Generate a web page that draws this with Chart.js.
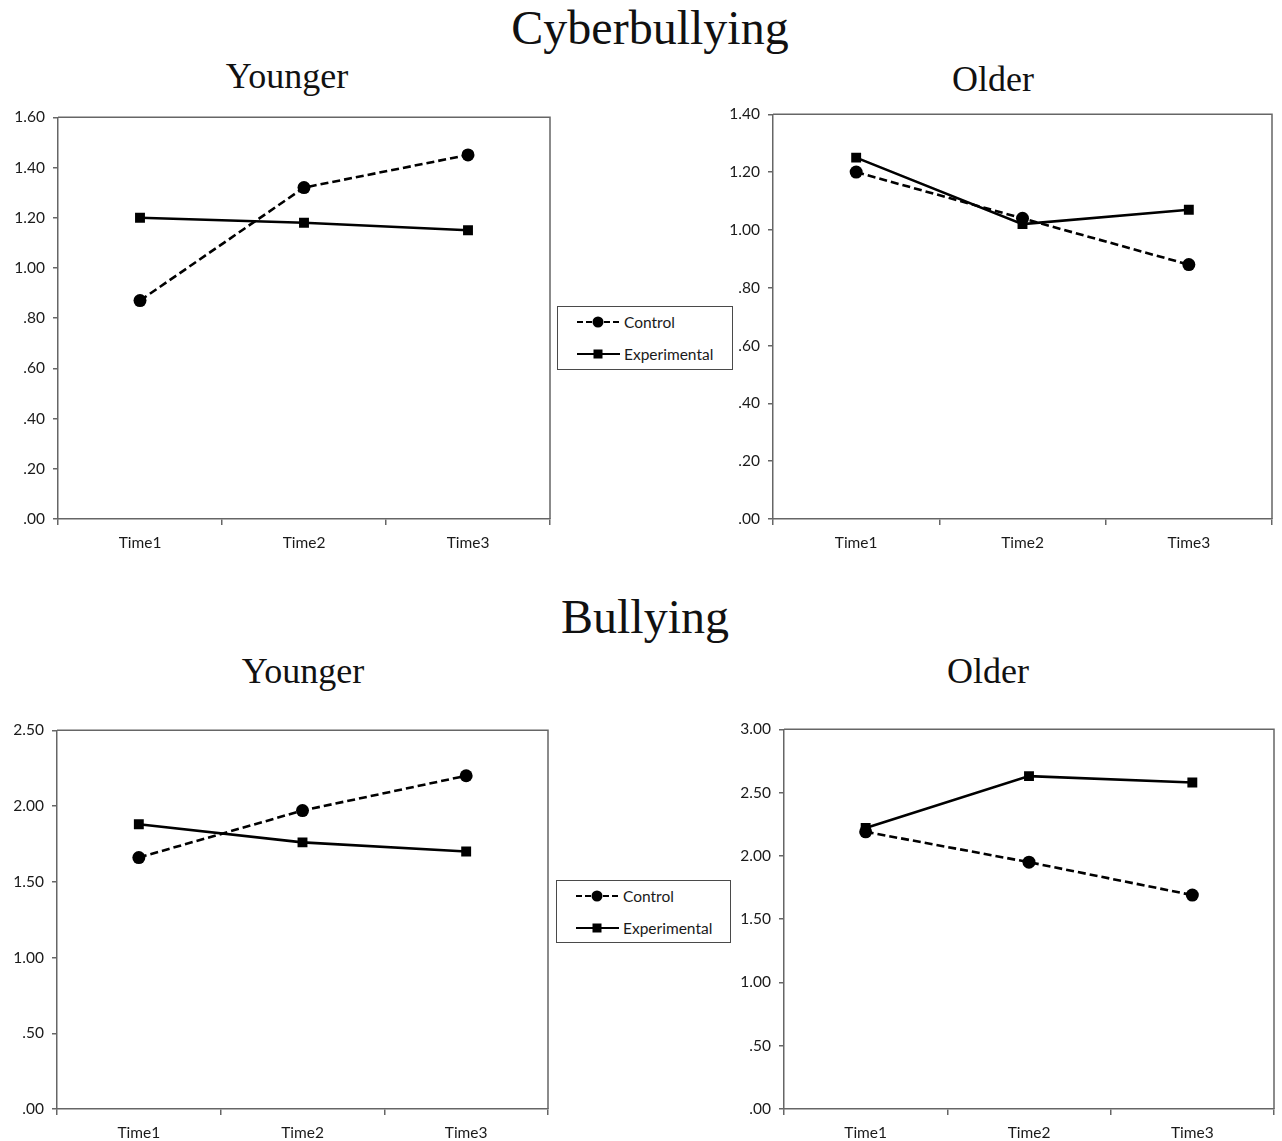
<!DOCTYPE html>
<html>
<head>
<meta charset="utf-8">
<script src="https://cdn.jsdelivr.net/npm/chart.js@4.4.1/dist/chart.umd.min.js"></script>
<style>
  html, body { margin: 0; padding: 0; background: #fff; }
  body { width: 1282px; height: 1141px; position: relative; overflow: hidden; }
  .title { position: absolute; font-family: "Liberation Serif", "Times New Roman", serif; color: #111; white-space: nowrap; transform: translateX(-50%); line-height: 1; }
  .big { font-size: 48px; }
  .sub { font-size: 36px; }
  .panel { position: absolute; }
  .legend { position: absolute; border: 1px solid #4a4a4a; background: #fff; box-sizing: border-box; font-family: Lato, "Open Sans", sans-serif; font-size: 15.5px; color: #1a1a1a; }
  .legend .row { position: absolute; left: 18px; height: 16px; display: flex; align-items: center; }
  .legend svg { margin-right: 3px; }
</style>
</head>
<body>
<div class="title big" style="left:650px; top:4px;">Cyberbullying</div>
<div class="title sub" style="left:287px; top:58px;">Younger</div>
<div class="title sub" style="left:993px; top:61px;">Older</div>
<div class="title big" style="left:645px; top:593px;">Bullying</div>
<div class="title sub" style="left:303px; top:653px;">Younger</div>
<div class="title sub" style="left:988px; top:653px;">Older</div>

<canvas id="cyberYoung" class="panel"></canvas>
<canvas id="cyberOld" class="panel"></canvas>
<canvas id="bullyYoung" class="panel"></canvas>
<canvas id="bullyOld" class="panel"></canvas>

<div class="legend" id="legendTop" style="left:557px; top:306px; width:176px; height:64px;"></div>
<div class="legend" id="legendBottom" style="left:556px; top:880px; width:175px; height:63px;"></div>

<script>
// Measurement occasions
const times = ['Time1', 'Time2', 'Time3'];

// Cyberbullying means
const cyberYoungControl = [0.87, 1.32, 1.45];
const cyberYoungExperimental = [1.20, 1.18, 1.15];
const cyberOldControl = [1.20, 1.04, 0.88];
const cyberOldExperimental = [1.25, 1.02, 1.07];

// Bullying means
const bullyYoungControl = [1.66, 1.97, 2.20];
const bullyYoungExperimental = [1.88, 1.76, 1.70];
const bullyOldControl = [2.19, 1.95, 1.69];
const bullyOldExperimental = [2.22, 2.63, 2.58];

// Axis ranges
const cyberYoungAxis = { max: 1.6, step: 0.2 };
const cyberOldAxis = { max: 1.4, step: 0.2 };
const bullyYoungAxis = { max: 2.5, step: 0.5 };
const bullyOldAxis = { max: 3.0, step: 0.5 };

const seriesNames = ['Control', 'Experimental'];

const AXIS_COLOR = '#666666';
const TICK_FONT = { family: 'Lato, "Open Sans", sans-serif', size: 15.5 };
const Y_AXIS_W = 58, X_AXIS_H = 32, PAD_TOP = 17;

// Closes the plot frame on the top and right sides
const frame = {
  id: 'frame',
  afterDraw(chart) {
    const a = chart.chartArea, ctx = chart.ctx;
    ctx.save();
    ctx.strokeStyle = AXIS_COLOR;
    ctx.lineWidth = 1.5;
    ctx.beginPath();
    ctx.moveTo(a.left, a.top);
    ctx.lineTo(a.right, a.top);
    ctx.lineTo(a.right, a.bottom);
    ctx.stroke();
    ctx.restore();
  }
};

function fmt(v) {
  return Number(v).toFixed(2).replace(/^0/, '');
}

function makePanel(id, area, padRight, axis, control, experimental) {
  const el = document.getElementById(id);
  const w = area.right - area.left + Y_AXIS_W + padRight;
  const h = area.bottom - area.top + PAD_TOP + X_AXIS_H;
  el.style.left = (area.left - Y_AXIS_W) + 'px';
  el.style.top = (area.top - PAD_TOP) + 'px';
  el.style.width = w + 'px';
  el.style.height = h + 'px';
  el.width = w; el.height = h;

  new Chart(el, {
    type: 'line',
    data: {
      labels: times,
      datasets: [
        {
          label: seriesNames[0], data: control,
          borderColor: '#000', backgroundColor: '#000', borderWidth: 2.6,
          borderDash: [8, 4], pointStyle: 'circle', pointRadius: 6.5,
          pointBorderWidth: 0, tension: 0, fill: false
        },
        {
          label: seriesNames[1], data: experimental,
          borderColor: '#000', backgroundColor: '#000', borderWidth: 2.6,
          pointStyle: 'rect', pointRadius: 7, pointBorderWidth: 0,
          tension: 0, fill: false
        }
      ]
    },
    options: {
      responsive: false,
      animation: false,
      layout: { padding: { top: PAD_TOP, right: padRight, left: 0, bottom: 0 } },
      plugins: { legend: { display: false }, tooltip: { enabled: false } },
      scales: {
        x: {
          offset: true,
          grid: { offset: true, drawOnChartArea: false, drawTicks: true, tickLength: 6, color: AXIS_COLOR, lineWidth: 1.5 },
          border: { display: true, color: AXIS_COLOR, width: 1.5 },
          ticks: { color: '#1a1a1a', font: TICK_FONT, padding: 9, maxRotation: 0 },
          afterFit(s) { s.height = X_AXIS_H; }
        },
        y: {
          min: 0, max: axis.max,
          grid: { drawOnChartArea: false, drawTicks: true, tickLength: 5, color: AXIS_COLOR, lineWidth: 1.5 },
          border: { display: true, color: AXIS_COLOR, width: 1.5 },
          ticks: { stepSize: axis.step, color: '#1a1a1a', font: TICK_FONT, padding: 8, callback: fmt },
          afterFit(s) { s.width = Y_AXIS_W; }
        }
      }
    },
    plugins: [frame]
  });
}

makePanel('cyberYoung', { left: 58, top: 117, right: 550, bottom: 519 }, 10, cyberYoungAxis, cyberYoungControl, cyberYoungExperimental);
makePanel('cyberOld', { left: 773, top: 114, right: 1272, bottom: 519 }, 8, cyberOldAxis, cyberOldControl, cyberOldExperimental);
makePanel('bullyYoung', { left: 57, top: 730, right: 548, bottom: 1109 }, 10, bullyYoungAxis, bullyYoungControl, bullyYoungExperimental);
makePanel('bullyOld', { left: 784, top: 729, right: 1276, bottom: 1109 }, 5, bullyOldAxis, bullyOldControl, bullyOldExperimental);

// Legend: dashed line with a circle, solid line with a square
function legendSample(dashed) {
  const line = dashed
    ? '<line x1="1" y1="8" x2="44" y2="8" stroke="#000" stroke-width="2" stroke-dasharray="6,3"/>'
      + '<circle cx="22" cy="8" r="5.5" fill="#000"/>'
    : '<line x1="1" y1="8" x2="44" y2="8" stroke="#000" stroke-width="2"/>'
      + '<rect x="17.5" y="3.5" width="9" height="9" fill="#000"/>';
  return '<svg width="45" height="16" viewBox="0 0 45 16">' + line + '</svg>';
}

function buildLegend(id) {
  const box = document.getElementById(id);
  box.innerHTML =
    '<div class="row" style="top:7px;">' + legendSample(true) + '<span>' + seriesNames[0] + '</span></div>' +
    '<div class="row" style="top:39px;">' + legendSample(false) + '<span>' + seriesNames[1] + '</span></div>';
}
buildLegend('legendTop');
buildLegend('legendBottom');
</script>
</body>
</html>
